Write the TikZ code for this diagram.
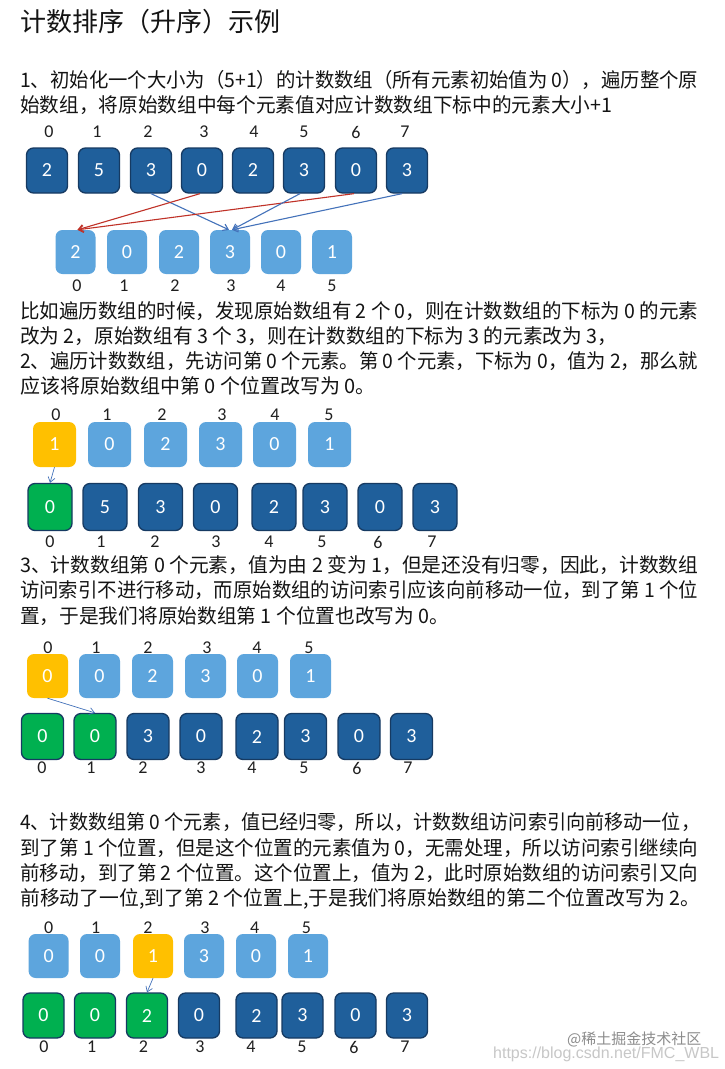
\documentclass[tikz,border=0pt]{standalone}
\usepackage{graphicx}
\usepackage{fontspec}
\setmainfont{Noto Sans CJK SC}
\newfontfamily\calib{Carlito}
\newfontfamily\wmfont{Liberation Sans}
\usetikzlibrary{arrows.meta}
\definecolor{dkblue}{RGB}{31,95,155}
\definecolor{dkedge}{RGB}{22,58,98}
\definecolor{ltblue}{RGB}{93,165,221}
\definecolor{cyellow}{RGB}{255,192,0}
\definecolor{cgreen}{RGB}{0,176,80}
\definecolor{arrblue}{RGB}{68,114,186}
\definecolor{arrred}{RGB}{192,50,40}
\newcommand\fitl[2]{\resizebox{#1pt}{\height}{#2}}
\tikzset{
  txt/.style={anchor=base west, inner sep=0pt, font=\fontsize{20}{24}\selectfont, text=black!92},
  cell/.style={rounded corners=7pt, inner sep=0pt, text=white, font=\calib\fontsize{20}{22}\selectfont},
  dbox/.style={cell, fill=dkblue, draw=dkedge, line width=1.3pt},
  gbox/.style={cell, fill=cgreen, draw=dkedge, line width=1.3pt},
  lbox/.style={cell, fill=ltblue},
  ybox/.style={cell, fill=cyellow},
  lab/.style={inner sep=0pt, font=\calib\fontsize{18}{20}\selectfont, text=black!88},
  arr/.style={-{Straight Barb[length=5pt,width=7pt]}, line width=1.1pt},
}
\begin{document}
\begin{tikzpicture}[x=1pt,y=-1pt]
\useasboundingbox (0,0) rectangle (725,1069);
\fill[white] (0,0) rectangle (725,1069);

% title
\node[anchor=base west, inner sep=0pt, font=\fontsize{26}{30}\selectfont, text=black!92] (title) at (20,31) {计数排序（升序）示例};

% paragraph 1
\node[txt] (p1a) at (20,87.5) {\fitl{678}{1、初始化一个大小为（5+1）的计数数组（所有元素初始值为 0），遍历整个原}};
\node[txt] (p1b) at (20,112.5) {\fitl{592}{始数组，将原始数组中每个元素值对应计数数组下标中的元素大小+1}};

% section 1 original array
\foreach \x/\v [count=\i from 0] in {47/2,99/5,151/3,202/0,253/2,304/3,356/0,407/3}
  \node[dbox, minimum width=41pt, minimum height=45pt] (a\i) at (\x,170.5) {\v};
\foreach \x [count=\i from 0] in {49,97,148,204,254,304,356,405}
  \node[lab] (at\i) at (\x,132) {\i};
% section 1 count array
\foreach \x/\v [count=\i from 0] in {75.5/2,127/0,179/2,230/3,281/0,332/1}
  \node[lbox, minimum width=40pt, minimum height=44pt] (c\i) at (\x,252) {\v};
\foreach \x [count=\i from 0] in {77,124,175,231,281,332}
  \node[lab] (ct\i) at (\x,286) {\i};
\draw[arr, arrblue] (a2.south) -- ([xshift=-1pt]c3.north);
\draw[arr, arrred] ([xshift=-2pt]a3.south) -- ([xshift=2pt]c0.north);
\draw[arr, arrred] ([xshift=-2pt]a6.south) -- ([xshift=2pt]c0.north);
\draw[arr, arrblue] ([xshift=-4pt]a5.south) -- ([xshift=2pt]c3.north);
\draw[arr, arrblue] ([xshift=-5pt]a7.south) -- ([xshift=2pt]c3.north);

% paragraph 2
\node[txt] (p2a) at (20,318.5) {\fitl{678}{比如遍历数组的时候，发现原始数组有 2 个 0，则在计数数组的下标为 0 的元素}};
\node[txt] (p2b) at (20,343.5) {\fitl{597}{改为 2，原始数组有 3 个 3，则在计数数组的下标为 3 的元素改为 3，}};
\node[txt] (p2c) at (20,368.5) {\fitl{678}{2、遍历计数数组，先访问第 0 个元素。第 0 个元素，下标为 0，值为 2，那么就}};
\node[txt] (p2d) at (20,393) {应该将原始数组中第 0 个位置改写为 0。};

% section 2 diagram
\foreach \x/\v/\s [count=\i from 0] in {54.5/1/ybox,109.5/0/lbox,165.5/2/lbox,220.5/3/lbox,274.5/0/lbox,329.5/1/lbox}
  \node[\s, minimum width=43pt, minimum height=45pt] (b\i) at (\x,444.5) {\v};
\foreach \x [count=\i from 0] in {56,107,162,222,275,329}
  \node[lab] (bt\i) at (\x,415) {\i};
\foreach \x/\v/\s [count=\i from 0] in {50/0/gbox,105/5/dbox,160.5/3/dbox,215.5/0/dbox,274/2/dbox,325/3/dbox,380/0/dbox,435/3/dbox}
  \node[\s, minimum width=44pt, minimum height=47pt] (d\i) at (\x,507) {\v};
\foreach \x [count=\i from 0] in {50,101,155,216,269,322,378,432}
  \node[lab] (dt\i) at (\x,542) {\i};
\draw[arr, arrblue, line width=0.7pt] (b0.south) -- (d0.north);

% paragraph 3
\node[txt] (p3a) at (20,572.5) {\fitl{678}{3、计数数组第 0 个元素，值为由 2 变为 1，但是还没有归零，因此，计数数组}};
\node[txt] (p3b) at (20,597.5) {\fitl{678}{访问索引不进行移动，而原始数组的访问索引应该向前移动一位，到了第 1 个位}};
\node[txt] (p3c) at (20,623) {\fitl{429}{置，于是我们将原始数组第 1 个位置也改写为 0。}};

% section 3 diagram
\foreach \x/\v/\s [count=\i from 0] in {47.5/0/ybox,99.5/0/lbox,152.5/2/lbox,205.5/3/lbox,257.5/0/lbox,310.5/1/lbox}
  \node[\s, minimum width=41pt, minimum height=44pt] (e\i) at (\x,676) {\v};
\foreach \x [count=\i from 0] in {48,96,148,207,257,309}
  \node[lab] (et\i) at (\x,648) {\i};
\foreach \x/\v/\s [count=\i from 0] in {42.5/0/gbox,95/0/gbox,148/3/dbox,201/0/dbox,257/2/dbox,305.5/3/dbox,359/0/dbox,411.5/3/dbox}
  \node[\s, minimum width=42pt, minimum height=46pt] (f\i) at (\x,736.5) {\v};
\foreach \x [count=\i from 0] in {42,91,143,201,252,304,357,408}
  \node[lab] (ft\i) at (\x,768) {\i};
\draw[arr, arrblue, line width=0.7pt] (e0.south) -- (f1.north);

% paragraph 4
\node[txt] (p4a) at (20,829.5) {\fitl{680}{4、计数数组第 0 个元素，值已经归零，所以，计数数组访问索引向前移动一位，}};
\node[txt] (p4b) at (20,855) {\fitl{678}{到了第 1 个位置，但是这个位置的元素值为 0，无需处理，所以访问索引继续向}};
\node[txt] (p4c) at (20,880) {\fitl{678}{前移动，到了第 2 个位置。这个位置上，值为 2，此时原始数组的访问索引又向}};
\node[txt] (p4d) at (20,905) {\fitl{680}{前移动了一位,到了第 2 个位置上,于是我们将原始数组的第二个位置改写为 2。}};

% section 4 diagram
\foreach \x/\v/\s [count=\i from 0] in {48.6/0/lbox,100/0/lbox,153/1/ybox,204/3/lbox,256/0/lbox,308/1/lbox}
  \node[\s, minimum width=40pt, minimum height=44pt] (g\i) at (\x,956) {\v};
\foreach \x [count=\i from 0] in {48.6,95.8,148,205,254.6,306.5}
  \node[lab] (gt\i) at (\x,928) {\i};
\foreach \x/\v/\s [count=\i from 0] in {43.5/0/gbox,95/0/gbox,147/2/gbox,199/0/dbox,256.5/2/dbox,302.5/3/dbox,355.5/0/dbox,407/3/dbox}
  \node[\s, minimum width=41pt, minimum height=45pt] (h\i) at (\x,1015.5) {\v};
\foreach \x [count=\i from 0] in {44,91.7,143.5,200,251,302,354,405}
  \node[lab] (ht\i) at (\x,1047) {\i};
\draw[arr, arrblue, line width=0.7pt] (g2.south) -- (h2.north);

% watermark
\node[anchor=base west, inner sep=0pt, text=black!45, font=\fontsize{15}{18}\selectfont] (wm1) at (567,1044) {@稀土掘金技术社区};
\node[anchor=base west, inner sep=0pt, text=black!22, font=\wmfont\fontsize{16}{18}\selectfont] (wm2) at (493,1058) {https://blog.csdn.net/FMC\_WBL};
\end{tikzpicture}
\end{document}
